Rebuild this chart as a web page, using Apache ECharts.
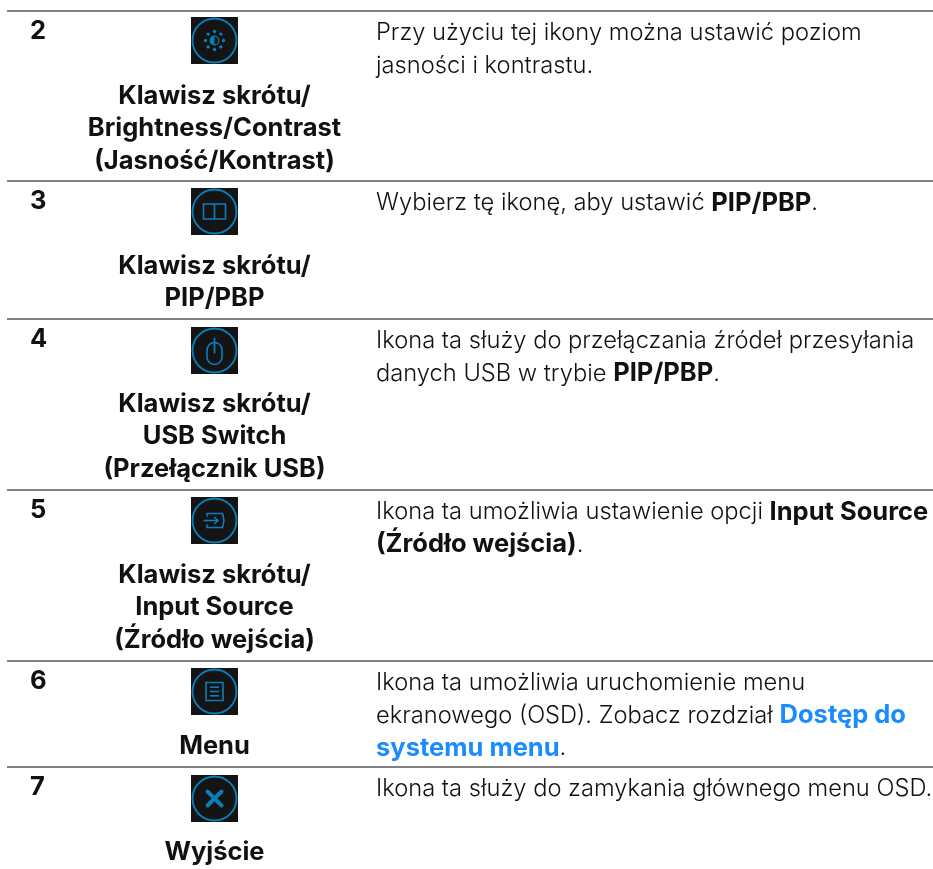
<!DOCTYPE html>
<html>
<head>
<meta charset="utf-8">
<style>html,body{margin:0;background:#fff}#main{width:933px;height:869px}</style>
<script src="https://cdn.jsdelivr.net/npm/echarts@6/dist/echarts.min.js"></script>
</head>
<body>
<div id="main"></div>
<script>
// table content
var rowNumbers = ['2', '3', '4', '5', '6', '7'];
var iconKinds = ['brightness', 'pip', 'mouse', 'input', 'menu', 'close'];
var titleLines = [
    ['Klawisz skrótu/', 'Brightness/Contrast', '(Jasność/Kontrast)'],
    ['Klawisz skrótu/', 'PIP/PBP'],
    ['Klawisz skrótu/', 'USB Switch', '(Przełącznik USB)'],
    ['Klawisz skrótu/', 'Input Source', '(Źródło wejścia)'],
    ['Menu'],
    ['Wyjście']
];
var bodyLines = [
    ['Przy użyciu tej ikony można ustawić poziom', 'jasności i kontrastu.'],
    ['Wybierz tę ikonę, aby ustawić {b|PIP/PBP}.'],
    ['Ikona ta służy do przełączania źródeł przesyłania', 'danych USB w trybie {b|PIP/PBP}.'],
    ['Ikona ta umożliwia ustawienie opcji {b|Input Source}', '{b|(Źródło wejścia)}.'],
    ['Ikona ta umożliwia uruchomienie menu', 'ekranowego (OSD). Zobacz rozdział {l|Dostęp do}', '{l|systemu menu}.'],
    ['Ikona ta służy do zamykania głównego menu OSD.']
];

// layout
var rowTops = [11, 181, 319, 490, 661, 767];
var iconOffsets = [6, 7, 8, 7, 7, 8];
var lineHeight = 32.5;
var fontName = 'Inter';
var boldFont = 'bold 25.5px ' + fontName;
var bodyFont = '300 23.7px ' + fontName;
var textColor = '#111111';
var iconColor = '#0b7dba';

function iconShapes(kind) {
    var s = {stroke: iconColor, fill: null, lineWidth: 1.6};
    var shapes = [];
    function rect(x, y, w, h, r) { shapes.push({type: 'rect', shape: {x: x, y: y, width: w, height: h, r: r || 0}, style: s}); }
    function line(x1, y1, x2, y2, st) { shapes.push({type: 'line', shape: {x1: x1, y1: y1, x2: x2, y2: y2}, style: st || s}); }
    if (kind === 'brightness') {
        var dots = [[0, -9], [6.4, -6.4], [9, 0], [6.4, 6.4], [0, 9], [-6.4, 6.4], [-9, 0], [-6.4, -6.4]];
        dots.forEach(function (d) {
            shapes.push({type: 'circle', shape: {cx: d[0], cy: d[1], r: 1.7}, style: {fill: iconColor}});
        });
        shapes.push({type: 'circle', shape: {cx: 0, cy: 0, r: 4.4}, style: {stroke: iconColor, fill: null, lineWidth: 1.2}});
        shapes.push({type: 'sector', shape: {cx: 0, cy: 0, r: 4.4, startAngle: Math.PI / 2, endAngle: Math.PI * 1.5}, style: {fill: iconColor}});
    } else if (kind === 'pip') {
        rect(-11, -7.5, 22, 15);
        line(0, -7.5, 0, 7.5);
    } else if (kind === 'mouse') {
        rect(-7.5, -8, 15, 22, 7.5);
        line(0, -13, 0, 3, {stroke: iconColor, lineWidth: 1.8});
    } else if (kind === 'input') {
        shapes.push({type: 'polyline', shape: {points: [[-7.5, -4], [-7.5, -7], [8, -7], [9.5, 0], [8, 7], [-7.5, 7], [-7.5, 4]]}, style: s});
        line(-11, 0, 3.5, 0);
        shapes.push({type: 'polyline', shape: {points: [[-0.5, -3.5], [3.5, 0], [-0.5, 3.5]]}, style: s});
    } else if (kind === 'menu') {
        rect(-8.5, -9, 17, 18);
        line(-4.5, -4.3, 4.5, -4.3);
        line(-4.5, 0, 4.5, 0);
        line(-4.5, 4.3, 4.5, 4.3);
    } else {
        var st = {stroke: iconColor, lineWidth: 4, lineCap: 'round'};
        line(-7, -7, 7, 7, st);
        line(7, -7, -7, 7, st);
    }
    return shapes;
}

var elements = [];
rowTops.forEach(function (top, i) {
    elements.push({type: 'rect', shape: {x: 7, y: top - 1, width: 926, height: 2}, style: {fill: '#808080'}});
    elements.push({
        type: 'text', x: 30, y: top + 20,
        style: {text: rowNumbers[i], font: boldFont, fill: textColor, textAlign: 'left', textVerticalAlign: 'middle'}
    });
    var cy = top + iconOffsets[i] + 23.5;
    elements.push({
        type: 'group', x: 214.5, y: cy,
        children: [
            {type: 'rect', shape: {x: -23.5, y: -23.5, width: 47, height: 47}, style: {fill: '#141414'}},
            {type: 'circle', shape: {cx: 0, cy: 0, r: 22}, style: {stroke: iconColor, fill: null, lineWidth: 1.9}}
        ].concat(iconShapes(iconKinds[i]))
    });
    titleLines[i].forEach(function (t, j) {
        elements.push({
            type: 'text', x: 214.5, y: top + 85 + j * lineHeight,
            style: {text: t, font: boldFont, fill: textColor, textAlign: 'center', textVerticalAlign: 'middle'}
        });
    });
    bodyLines[i].forEach(function (t, j) {
        elements.push({
            type: 'text', x: 376, y: top + 22 + j * lineHeight,
            style: {
                text: t, font: bodyFont, fill: textColor, textAlign: 'left', textVerticalAlign: 'middle',
                rich: {
                    b: {font: boldFont, fill: textColor},
                    l: {font: boldFont, fill: '#1a8cff'}
                }
            }
        });
    });
});

var myChart = echarts.init(document.getElementById('main'), null, {renderer: 'canvas'});
myChart.setOption({
    backgroundColor: '#fff',
    animation: false,
    graphic: {elements: elements}
});
</script>
</body>
</html>
